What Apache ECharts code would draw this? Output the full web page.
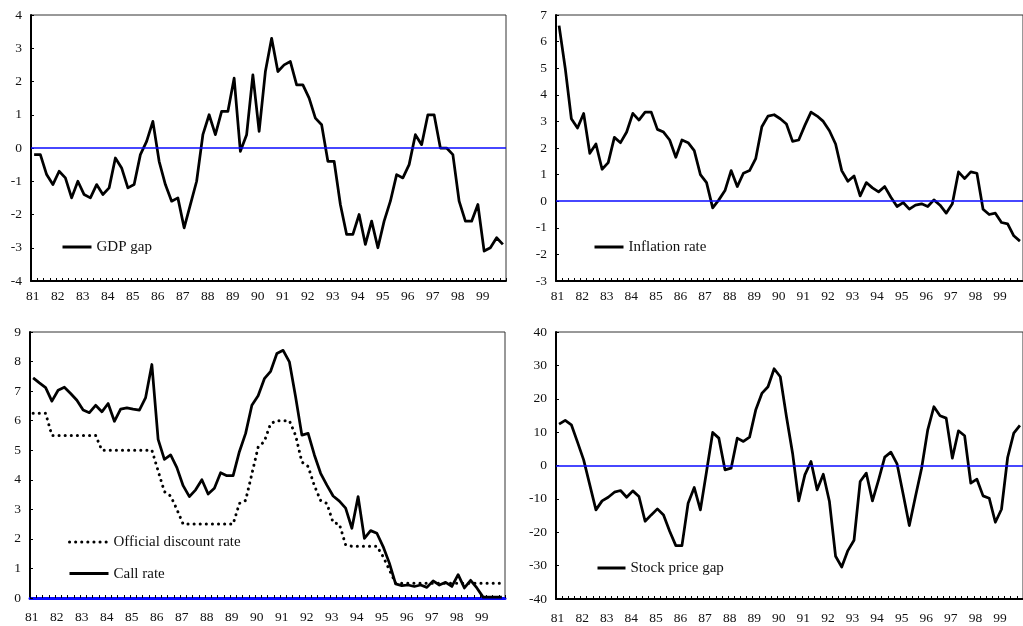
<!DOCTYPE html>
<html>
<head>
<meta charset="utf-8">
<title>Macroeconomic indicators, 1981-1999</title>
<script src="https://cdn.jsdelivr.net/npm/echarts@6/dist/echarts.min.js"></script>
<style>
  html, body { margin: 0; padding: 0; background: #fff; }
  #chart { width: 1023px; height: 626px; }
</style>
</head>
<body>
<div id="chart"></div>
<script>
// Year tick labels; each year has four quarterly observations.
const years = ['81','82','83','84','85','86','87','88','89','90','91','92','93','94','95','96','97','98','99'];
const quarters = [];
years.forEach(y => { for (let q = 1; q <= 4; q++) quarters.push(y + 'Q' + q); });

// GDP gap (%)
const gdpGap = [
  -0.2, -0.2, -0.8, -1.1, -0.7, -0.9, -1.5, -1.0, -1.4, -1.5, -1.1, -1.4,
  -1.2, -0.3, -0.6, -1.2, -1.1, -0.2, 0.2, 0.8, -0.4, -1.1, -1.6, -1.5,
  -2.4, -1.7, -1.0, 0.4, 1.0, 0.4, 1.1, 1.1, 2.1, -0.1, 0.4, 2.2,
  0.5, 2.3, 3.3, 2.3, 2.5, 2.6, 1.9, 1.9, 1.5, 0.9, 0.7, -0.4,
  -0.4, -1.7, -2.6, -2.6, -2.0, -2.9, -2.2, -3.0, -2.2, -1.6, -0.8, -0.9,
  -0.5, 0.4, 0.1, 1.0, 1.0, 0.0, 0.0, -0.2, -1.6, -2.2, -2.2, -1.7,
  -3.1, -3.0, -2.7, -2.9
];

// Inflation rate (%)
const inflation = [
  6.6, 5.0, 3.1, 2.75, 3.3, 1.8, 2.15, 1.2, 1.45, 2.4, 2.2, 2.6,
  3.3, 3.05, 3.35, 3.35, 2.7, 2.6, 2.3, 1.65, 2.3, 2.2, 1.9, 1.0,
  0.7, -0.25, 0.05, 0.4, 1.15, 0.55, 1.05, 1.15, 1.6, 2.8, 3.2, 3.25,
  3.1, 2.9, 2.25, 2.3, 2.85, 3.35, 3.2, 3.0, 2.65, 2.15, 1.15, 0.75,
  0.95, 0.2, 0.7, 0.5, 0.35, 0.55, 0.15, -0.2, -0.05, -0.3, -0.15, -0.1,
  -0.2, 0.05, -0.15, -0.45, -0.1, 1.1, 0.85, 1.1, 1.05, -0.3, -0.5, -0.45,
  -0.8, -0.85, -1.3, -1.5
];

// Official discount rate (%)
const discountRate = [
  6.25, 6.25, 6.25, 5.5, 5.5, 5.5, 5.5, 5.5, 5.5, 5.5, 5.5, 5.0,
  5.0, 5.0, 5.0, 5.0, 5.0, 5.0, 5.0, 5.0, 4.3, 3.6, 3.45, 3.0,
  2.5, 2.5, 2.5, 2.5, 2.5, 2.5, 2.5, 2.5, 2.5, 3.2, 3.3, 4.2,
  5.1, 5.3, 5.9, 6.0, 6.0, 6.0, 5.5, 4.6, 4.45, 3.8, 3.3, 3.2,
  2.55, 2.5, 1.8, 1.75, 1.75, 1.75, 1.75, 1.75, 1.4, 0.95, 0.5, 0.5,
  0.5, 0.5, 0.5, 0.5, 0.5, 0.5, 0.5, 0.5, 0.5, 0.5, 0.5, 0.5,
  0.5, 0.5, 0.5, 0.5
];

// Call rate (%)
const callRate = [
  7.45, 7.28, 7.12, 6.66, 7.03, 7.13, 6.92, 6.69, 6.36, 6.27, 6.52, 6.3,
  6.58, 5.98, 6.39, 6.43, 6.39, 6.36, 6.78, 7.9, 5.37, 4.69, 4.84, 4.41,
  3.8, 3.43, 3.66, 4.0, 3.52, 3.71, 4.24, 4.14, 4.14, 4.95, 5.57, 6.52,
  6.84, 7.42, 7.67, 8.27, 8.38, 7.99, 6.8, 5.51, 5.57, 4.84, 4.22, 3.82,
  3.45, 3.28, 3.04, 2.36, 3.43, 2.02, 2.28, 2.19, 1.74, 1.18, 0.48, 0.42,
  0.44, 0.39, 0.44, 0.36, 0.58, 0.44, 0.53, 0.39, 0.79, 0.34, 0.6, 0.34,
  0.03, 0.03, 0.03, 0.03
];

// Stock price gap (%)
const stockGap = [
  12.4, 13.5, 12.2, 7.0, 1.7, -5.8, -13.3, -10.6, -9.5, -8.0, -7.5, -9.5,
  -7.6, -9.3, -16.7, -14.8, -13.0, -14.8, -19.7, -24.0, -24.0, -11.3, -6.6, -13.3,
  -1.8, 9.9, 8.2, -1.3, -0.8, 8.2, 7.2, 8.5, 16.6, 21.6, 23.6, 29.0,
  26.6, 14.7, 3.7, -10.6, -2.8, 1.2, -7.3, -2.6, -10.8, -27.2, -30.4, -25.5,
  -22.4, -4.8, -2.3, -10.6, -4.3, 2.5, 4.0, 0.5, -8.6, -18.0, -9.3, -0.8,
  10.7, 17.6, 14.9, 14.2, 2.2, 10.4, 8.9, -5.3, -4.1, -9.1, -9.8, -17.0,
  -13.1, 2.4, 9.7, 12.0
];

const FONT = '"Liberation Serif", "Times New Roman", serif';
const INK = '#111';
const ZERO_BLUE = '#0a0aff';

function makeX(gridIndex, labelMargin, axisColor, axisWidth) {
  return {
    type: 'category',
    gridIndex: gridIndex,
    data: quarters,
    boundaryGap: true,
    axisLine: { onZero: false, lineStyle: { color: axisColor, width: axisWidth } },
    axisTick: { show: true, inside: true, length: 3, interval: 0, lineStyle: { color: '#000', width: 1 } },
    axisLabel: {
      interval: 3,
      margin: labelMargin,
      fontFamily: FONT,
      fontSize: 13.5,
      color: INK,
      padding: [0, 3, 0, 0],
      formatter: v => v.slice(0, 2)
    },
    splitLine: { show: false }
  };
}

function makeY(gridIndex, min, max, interval) {
  return {
    type: 'value',
    gridIndex: gridIndex,
    min: min, max: max, interval: interval,
    axisLine: { show: true, onZero: false, lineStyle: { color: '#000', width: 2 } },
    axisTick: { show: true, inside: true, length: 3, lineStyle: { color: '#000', width: 1 } },
    axisLabel: { margin: 9, fontFamily: FONT, fontSize: 13.5, color: INK },
    splitLine: { show: false }
  };
}

const zeroLine = {
  silent: true,
  symbol: ['none', 'none'],
  label: { show: false },
  lineStyle: { color: ZERO_BLUE, width: 1.5, type: 'solid' },
  data: [{ yAxis: 0 }],
  animation: false
};

function lineSeries(name, data, idx, extra) {
  return Object.assign({
    name: name,
    type: 'line',
    xAxisIndex: idx,
    yAxisIndex: idx,
    data: data,
    symbol: 'none',
    lineStyle: { color: '#000', width: 2.75, join: 'round' },
    itemStyle: { color: '#000' },
    animation: false
  }, extra || {});
}

function legendAt(names, left, top, width, gap) {
  return {
    data: names,
    orient: 'vertical',
    left: left,
    top: top,
    padding: 0,
    itemGap: gap || 10,
    itemWidth: width,
    itemHeight: 14,
    itemStyle: { opacity: 0 },
    lineStyle: { width: 3 },
    textStyle: { fontFamily: FONT, fontSize: 15, color: INK, lineHeight: 16 },
    selectedMode: false
  };
}

const chart = echarts.init(document.getElementById('chart'), null, { renderer: 'canvas' });

chart.setOption({
  backgroundColor: '#fff',
  animation: false,
  grid: [
    { left: 31, top: 15, width: 475, height: 266, show: true, borderColor: '#333', borderWidth: 1, backgroundColor: 'transparent' },
    { left: 556, top: 15, width: 475, height: 266, show: true, borderColor: '#333', borderWidth: 1, backgroundColor: 'transparent' },
    { left: 30, top: 332, width: 475, height: 266, show: true, borderColor: '#333', borderWidth: 1, backgroundColor: 'transparent' },
    { left: 556, top: 332, width: 475, height: 267, show: true, borderColor: '#333', borderWidth: 1, backgroundColor: 'transparent' }
  ],
  xAxis: [
    makeX(0, 8, '#000', 2),
    makeX(1, 8, '#000', 2),
    makeX(2, 12, ZERO_BLUE, 3),
    makeX(3, 12, '#000', 2)
  ],
  yAxis: [
    makeY(0, -4, 4, 1),
    makeY(1, -3, 7, 1),
    makeY(2, 0, 9, 1),
    makeY(3, -40, 40, 10)
  ],
  legend: [
    legendAt(['GDP gap'], 61, 239, 29),
    legendAt(['Inflation rate'], 593, 239, 29),
    legendAt(['Official discount rate', 'Call rate'], 68, 534, 39, 15.6),
    legendAt(['Stock price gap'], 596, 560, 28)
  ],
  series: [
    lineSeries('GDP gap', gdpGap, 0, { markLine: zeroLine, z: 3 }),
    lineSeries('Inflation rate', inflation, 1, { markLine: zeroLine, z: 3 }),
    lineSeries('Official discount rate', discountRate, 2, {
      lineStyle: { color: '#000', width: 3, type: [0.1, 6], cap: 'round', join: 'round' }
    }),
    lineSeries('Call rate', callRate, 2),
    lineSeries('Stock price gap', stockGap, 3, { markLine: zeroLine, z: 3 })
  ]
});
</script>
</body>
</html>
